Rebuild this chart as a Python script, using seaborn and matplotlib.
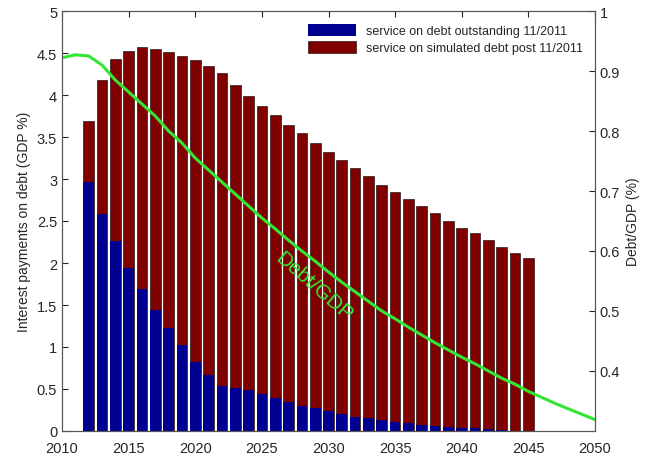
import numpy as np
import pandas as pd
import matplotlib
matplotlib.use('Agg')
import matplotlib.pyplot as plt
import seaborn as sns

# bar years and interest payments (GDP %)
years = list(range(2012, 2046))
total_service = [3.69, 4.18, 4.43, 4.52, 4.57, 4.55, 4.51, 4.46, 4.42, 4.35,
                 4.26, 4.12, 3.99, 3.87, 3.76, 3.64, 3.55, 3.43, 3.32, 3.23,
                 3.13, 3.04, 2.93, 2.85, 2.76, 2.68, 2.60, 2.50, 2.42, 2.36,
                 2.27, 2.19, 2.12, 2.06]
outstanding_service = [2.96, 2.58, 2.26, 1.94, 1.69, 1.44, 1.23, 1.02, 0.82, 0.67,
                       0.54, 0.51, 0.49, 0.44, 0.39, 0.35, 0.30, 0.27, 0.24, 0.20,
                       0.17, 0.15, 0.13, 0.11, 0.09, 0.07, 0.06, 0.05, 0.04, 0.03,
                       0.02, 0.01, 0.005, 0.0]

# debt/GDP path (right axis)
line_years = list(range(2010, 2051))
debt_gdp = [0.922, 0.927, 0.925, 0.910, 0.885, 0.865, 0.845, 0.825, 0.800, 0.780,
            0.755, 0.735, 0.715, 0.695, 0.675, 0.655, 0.637, 0.618, 0.600, 0.583,
            0.565, 0.548, 0.532, 0.516, 0.500, 0.487, 0.473, 0.460, 0.447, 0.435,
            0.423, 0.412, 0.400, 0.388, 0.378, 0.366, 0.356, 0.346, 0.337, 0.328,
            0.319]

labels = ['service on debt outstanding 11/2011',
          'service on simulated debt post 11/2011']

BLUE = '#000090'
RED = '#800000'
GREEN = '#33e633'

sns.set_style("white")
plt.rcParams['font.family'] = ['Liberation Sans', 'DejaVu Sans']

df_bars = pd.DataFrame({'Year': years, 'Total': total_service,
                        'Outstanding': outstanding_service})
df_line = pd.DataFrame({'Year': line_years, 'DebtGDP': debt_gdp})

fig = plt.figure(figsize=(6.46, 4.6), dpi=100)
ax = fig.add_axes([62 / 646, 28 / 460, (595 - 62) / 646, (432 - 12) / 460])

# stacked bars: total first, outstanding part on top
sns.barplot(data=df_bars, x='Year', y='Total', native_scale=True, color=RED,
            width=0.8, edgecolor='black', linewidth=0.4, saturation=1,
            label=labels[1], ax=ax)
sns.barplot(data=df_bars, x='Year', y='Outstanding', native_scale=True, color=BLUE,
            width=0.8, edgecolor='none', linewidth=0, saturation=1,
            label=labels[0], ax=ax)

ax.set_xlim(2010, 2050)
ax.set_ylim(0, 5)
ax.set_xticks(range(2010, 2051, 5))
ax.set_yticks(np.arange(0, 5.01, 0.5))
ax.set_yticklabels(['0', '0.5', '1', '1.5', '2', '2.5', '3', '3.5', '4', '4.5', '5'])
ax.set_xlabel('')
ax.set_ylabel('Interest payments on debt (GDP %)', fontsize=10)
ax.tick_params(axis='both', direction='in', labelsize=10.5, length=4,
               top=True, right=False)
ax.tick_params(axis='x', pad=7)

handles, _ = ax.get_legend_handles_labels()
ax.legend(handles[::-1], labels, loc='upper right', frameon=False, fontsize=9,
          handlelength=3.8, handleheight=1.1, borderaxespad=0.6, labelspacing=0.35)

ax.text(2028.9, 1.72, 'Debt/GDP', color=GREEN, fontsize=15, rotation=-41,
        ha='center', va='center')

ax2 = ax.twinx()
sns.lineplot(data=df_line, x='Year', y='DebtGDP', color=GREEN, linewidth=2.2, ax=ax2)
ax2.set_ylim(0.3, 1.0)
ax2.set_yticks(np.arange(0.4, 1.01, 0.1))
ax2.set_yticklabels(['0.4', '0.5', '0.6', '0.7', '0.8', '0.9', '1'])
ax2.set_ylabel('Debt/GDP (%)', fontsize=10)
ax2.set_xlim(2010, 2050)
ax2.tick_params(axis='y', direction='in', labelsize=10.5, length=4)

for a in (ax, ax2):
    for s in a.spines.values():
        s.set_color('#555555')
        s.set_linewidth(0.8)

fig.savefig('out.png', dpi=100)
